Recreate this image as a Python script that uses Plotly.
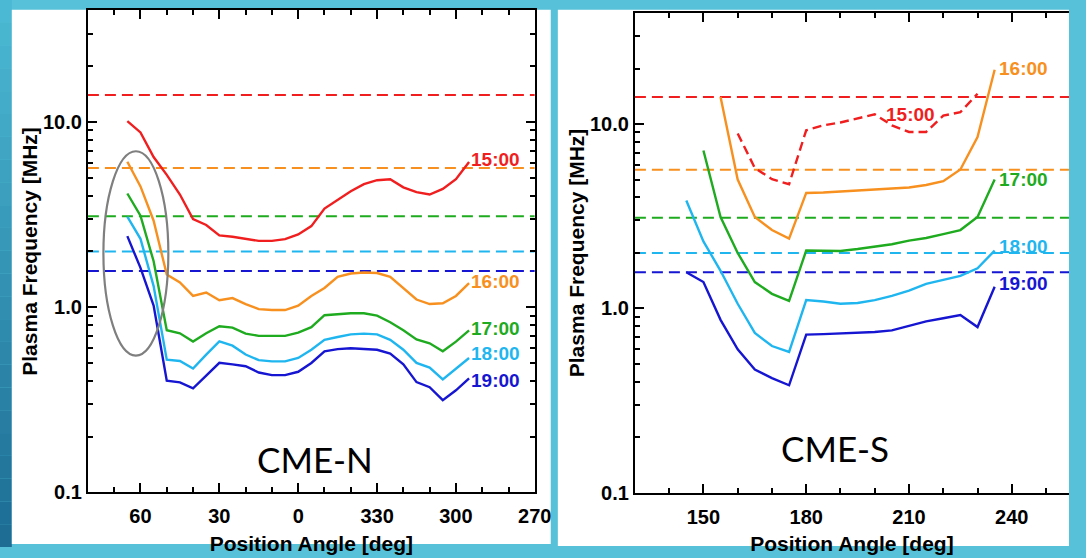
import numpy as np
import plotly.graph_objects as go

# ---------------- data: CME-N (left panel) ----------------
pa_n = [65, 60, 55, 50, 45, 40, 35, 30, 25, 20, 15, 10, 5, 0, -5, -10, -15,
        -20, -25, -30, -35, -40, -45, -50, -55, -60, -65]
f15_n = [10.1, 8.78, 6.47, 5.18, 4.06, 2.99, 2.78, 2.44, 2.40, 2.35, 2.28, 2.28, 2.33, 2.47,
         2.74, 3.41, 3.78, 4.23, 4.62, 4.85, 4.91, 4.44, 4.18, 4.06, 4.35, 4.91, 6.08]
f16_n = [6.10, 4.49, 2.93, 1.50, 1.36, 1.15, 1.20, 1.09, 1.12, 1.04, 0.976, 0.965, 0.965, 1.02,
         1.15, 1.27, 1.46, 1.52, 1.54, 1.53, 1.46, 1.27, 1.10, 1.04, 1.05, 1.15, 1.35]
f17_n = [4.11, 3.12, 1.77, 0.751, 0.723, 0.653, 0.723, 0.789, 0.776, 0.72, 0.70, 0.70, 0.70, 0.728,
         0.78, 0.905, 0.92, 0.927, 0.927, 0.90, 0.83, 0.75, 0.67, 0.638, 0.578, 0.652, 0.75]
f18_n = [3.08, 2.34, 1.30, 0.521, 0.512, 0.466, 0.554, 0.653, 0.62, 0.555, 0.518, 0.51, 0.51, 0.532,
         0.589, 0.666, 0.69, 0.713, 0.72, 0.713, 0.666, 0.589, 0.50, 0.472, 0.407, 0.463, 0.532]
f19_n = [2.42, 1.63, 1.02, 0.401, 0.393, 0.365, 0.427, 0.501, 0.491, 0.48, 0.444, 0.43, 0.43, 0.448,
         0.50, 0.578, 0.594, 0.60, 0.595, 0.589, 0.561, 0.491, 0.394, 0.37, 0.315, 0.356, 0.413]

# ---------------- data: CME-S (right panel) ----------------
pa_s = [145, 150, 155, 160, 165, 170, 175, 180, 185, 190, 195, 200, 205, 210, 215, 220, 225, 230, 235]
f15_s = [None, None, None, 8.88, 5.78, 5.02, 4.72, 9.25, 9.84, 10.2, 10.7, 11.3, 9.84, 9.06, 9.06,
         11.1, 11.6, 14.6, None]
f16_s = [None, None, 14.0, 5.0, 3.13, 2.66, 2.39, 4.23, 4.25, 4.30, 4.38, 4.42, 4.48, 4.53, 4.67,
         4.90, 5.67, 8.5, 19.7]
f17_s = [None, 7.18, 3.13, 2.0, 1.39, 1.20, 1.10, 2.06, 2.06, 2.05, 2.10, 2.16, 2.23, 2.33, 2.41,
         2.53, 2.66, 3.13, 5.0]
f18_s = [3.85, 2.31, 1.60, 1.06, 0.736, 0.625, 0.581, 1.11, 1.09, 1.06, 1.07, 1.11, 1.17, 1.25, 1.36,
         1.43, 1.50, 1.65, 2.06]
f19_s = [1.57, 1.39, 0.867, 0.60, 0.466, 0.419, 0.383, 0.721, 0.725, 0.73, 0.735, 0.745, 0.76, 0.80,
         0.85, 0.885, 0.921, 0.792, 1.31]

# reference (dashed) levels, one per time
times = ["15:00", "16:00", "17:00", "18:00", "19:00"]
level_f = [14.0, 5.65, 3.1, 2.0, 1.57]
colors = ["#f01e1e", "#f7901e", "#1fab1f", "#1fb6f0", "#1616d2"]

# axes
x_range_n = [80, -90]
x_tickvals_n = [60, 30, 0, -30, -60, -90]
x_ticktext_n = ["60", "30", "0", "330", "300", "270"]
x_range_s = [130, 256.7]
x_tickvals_s = [150, 180, 210, 240]
y_tickvals = [0.1, 1, 10]
y_ticktext = ["0.1", "1.0", "10.0"]
y_minor = [0.2, 0.3, 0.4, 0.5, 0.6, 0.7, 0.8, 0.9, 2, 3, 4, 5, 6, 7, 8, 9, 20, 30]
y_range = [-1, np.log10(40)]

W, H = 1086, 558
FONT = "Arial, Liberation Sans, sans-serif"
DASH = "11px,6px"

fig = go.Figure()

series_n = [f15_n, f16_n, f17_n, f18_n, f19_n]
series_s = [f15_s, f16_s, f17_s, f18_s, f19_s]

# dashed levels
for lv, c in zip(level_f, colors):
    fig.add_trace(go.Scatter(x=x_range_n, y=[lv, lv], mode="lines", xaxis="x", yaxis="y",
                             line=dict(color=c, width=2, dash=DASH), hoverinfo="skip"))
    fig.add_trace(go.Scatter(x=x_range_s, y=[lv, lv], mode="lines", xaxis="x2", yaxis="y2",
                             line=dict(color=c, width=2, dash=DASH), hoverinfo="skip"))

# curves
for t, ys, c in zip(times, series_n, colors):
    fig.add_trace(go.Scatter(x=pa_n, y=ys, mode="lines", name=t, xaxis="x", yaxis="y",
                             line=dict(color=c, width=2.4)))
for i, (t, ys, c) in enumerate(zip(times, series_s, colors)):
    fig.add_trace(go.Scatter(x=pa_s, y=ys, mode="lines", name=t, xaxis="x2", yaxis="y2",
                             line=dict(color=c, width=2.4, dash="9px,5px" if i == 0 else "solid")))

LABEL_SIZE = 19
annotations = []
# curve labels, left panel at the end of each curve
label_shift_n = [3, 2, 2, 4, -2]
for t, ys, c, s in zip(times, series_n, colors, label_shift_n):
    annotations.append(dict(x=pa_n[-1], y=np.log10(ys[-1]), xref="x", yref="y", text=t,
                            showarrow=False, xanchor="left", yanchor="middle", xshift=1, yshift=s,
                            borderpad=0,
                            font=dict(family=FONT, size=LABEL_SIZE, color=c, weight="bold")))
# right panel labels
label_shift_s = [0, 1, 0, 4, 3]
for i, (t, ys, c) in enumerate(zip(times, series_s, colors)):
    if i == 0:
        annotations.append(dict(x=210.3, y=np.log10(11.3), xref="x2", yref="y2", text=t,
                                showarrow=False, xanchor="center", yanchor="middle", borderpad=0,
                                font=dict(family=FONT, size=LABEL_SIZE, color=c, weight="bold")))
    else:
        annotations.append(dict(x=pa_s[-1], y=np.log10(ys[-1]), xref="x2", yref="y2", text=t,
                                showarrow=False, xanchor="left", yanchor="middle", xshift=3,
                                yshift=label_shift_s[i], borderpad=0,
                                font=dict(family=FONT, size=LABEL_SIZE, color=c, weight="bold")))

annotations.append(dict(x=320 / W, y=1 - 468 / H, xref="paper", yref="paper", text="CME-N",
                        showarrow=False, xanchor="center", yanchor="middle",
                        font=dict(family="Lato, sans-serif", size=35, color="black")))
annotations.append(dict(x=848 / W, y=1 - 457 / H, xref="paper", yref="paper", text="CME-S",
                        showarrow=False, xanchor="center", yanchor="middle",
                        font=dict(family="Lato, sans-serif", size=35, color="black")))

# background: teal slide with white image panels
shapes = []
top_c = np.array([0x4c, 0xbb, 0xd5])
bot_c = np.array([0x1d, 0x6c, 0x94])
nb = 24
for k in range(nb):
    c = top_c + (bot_c - top_c) * (k + 0.5) / nb
    shapes.append(dict(type="rect", xref="paper", yref="paper", x0=0, x1=12 / W,
                       y0=1 - (k + 1) / nb, y1=1 - k / nb, line=dict(width=0),
                       fillcolor="rgb(%d,%d,%d)" % tuple(c), layer="below"))
shapes.append(dict(type="rect", xref="paper", yref="paper", x0=12 / W, x1=559.5 / W,
                   y0=1 - 555 / H, y1=1 - 10 / H, line=dict(width=0), fillcolor="white", layer="below"))
shapes.append(dict(type="rect", xref="paper", yref="paper", x0=566.7 / W, x1=1,
                   y0=1 - 557 / H, y1=1 - 10 / H, line=dict(width=0), fillcolor="white", layer="below"))
# grey ellipse highlighting the early part of the curves
shapes.append(dict(type="circle", xref="x", yref="y domain", x0=74.1, x1=49.4,
                   y0=(502.3 - 362.7) / 491.6, y1=(502.3 - 154.3) / 491.6,
                   line=dict(color="#7f7f7f", width=2.2), layer="above"))

tickfont = dict(family=FONT, size=20, color="black", weight="bold")
titlefont_x = dict(family=FONT, size=21, color="black", weight="bold")
titlefont_y = dict(family=FONT, size=21, color="black", weight="bold")
common_x = dict(ticks="inside", ticklen=9, tickwidth=1.6, tickcolor="black",
                showline=True, linewidth=2, linecolor="black", mirror="ticks",
                showgrid=False, zeroline=False, tickfont=tickfont, ticklabelstandoff=5)
common_y = dict(type="log", range=y_range, tickmode="array", tickvals=y_tickvals, ticktext=y_ticktext,
                ticks="inside", ticklen=9, tickwidth=1.6, tickcolor="black",
                showline=True, linewidth=2, linecolor="black",
                showgrid=False, zeroline=False, tickfont=tickfont,
                minor=dict(tickmode="array", tickvals=y_minor, ticks="inside", ticklen=5,
                           tickwidth=1.6, tickcolor="black", showgrid=False))

fig.update_layout(
    width=W, height=H, margin=dict(l=0, r=0, t=0, b=0),
    paper_bgcolor="#56c1d8", plot_bgcolor="white", showlegend=False,
    xaxis=dict(domain=[89.3 / W, 543.3 / W], anchor="y", range=x_range_n, tickmode="array",
               tickvals=x_tickvals_n, ticktext=x_ticktext_n,
               minor=dict(tickmode="linear", tick0=0, dtick=10, ticks="inside", ticklen=5,
                          tickwidth=1.6, tickcolor="black", showgrid=False),
               title=dict(text="Position Angle [deg]", font=titlefont_x, standoff=10), **common_x),
    yaxis=dict(domain=[1 - 502.3 / H, 1 - 10.7 / H], anchor="x", mirror="ticks",
               title=dict(text="Plasma Frequency [MHz]", font=titlefont_y, standoff=0), **common_y),
    xaxis2=dict(domain=[645 / W, 1.0], anchor="y2", range=x_range_s, tickmode="array",
                tickvals=x_tickvals_s,
                minor=dict(tickmode="linear", tick0=130, dtick=10, ticks="inside", ticklen=5,
                           tickwidth=1.6, tickcolor="black", showgrid=False),
                title=dict(text="Position Angle [deg]", font=titlefont_x, standoff=10), **common_x),
    yaxis2=dict(domain=[1 - 502.7 / H, 1 - 13.3 / H], anchor="x2", mirror=False,
                title=dict(text="Plasma Frequency [MHz]", font=titlefont_y, standoff=0), **common_y),
    annotations=annotations, shapes=shapes,
)

fig.write_html("out.html", config={"displayModeBar": False},
               post_script="document.body.style.margin='0';document.body.style.overflow='hidden';")
